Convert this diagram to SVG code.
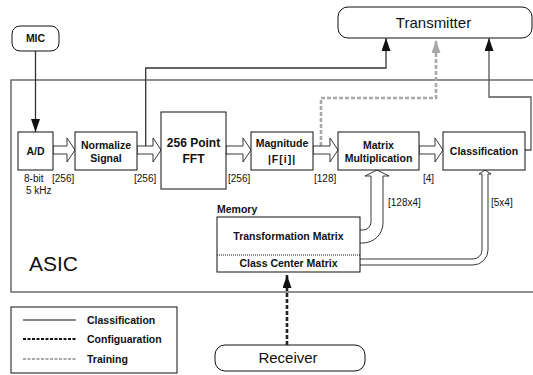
<svg xmlns="http://www.w3.org/2000/svg" width="533" height="375" viewBox="0 0 533 375">
<style>
text{font-family:"Liberation Sans",Arial,sans-serif;fill:#111}
.b{font-weight:bold;font-size:10.5px}
.n{font-size:10px}
.box{fill:#fff;stroke:#111;stroke-width:1}
.ha{fill:#fff;stroke:#222;stroke-width:0.9}
.hc{fill:none;stroke:#222;stroke-width:0.9}
.cl{fill:none;stroke:#333;stroke-width:1.3}
.cl2{fill:none;stroke:#555;stroke-width:1.3}
.tr{fill:none;stroke:#a8a8a8;stroke-width:2.6;stroke-dasharray:4 2}
.cf{fill:none;stroke:#222;stroke-width:2.6;stroke-dasharray:4 2}
</style>
<defs>
<marker id="ah" markerUnits="userSpaceOnUse" markerWidth="13" markerHeight="9" refX="13" refY="4.5" orient="auto"><path d="M0,0 L13,4.5 L0,9 z" fill="#111"/></marker>
<marker id="ahg" markerUnits="userSpaceOnUse" markerWidth="13" markerHeight="9" refX="13" refY="4.5" orient="auto"><path d="M0,0 L13,4.5 L0,9 z" fill="#a8a8a8"/></marker>
</defs>
<rect width="533" height="375" fill="#fff"/>

<g id="asic">
<rect x="11" y="80" width="540" height="212" fill="none" stroke="#555" stroke-width="1.3"/>
<text x="29" y="271" style="font-size:21px">ASIC</text>
</g>

<g id="mic">
<rect class="box" x="12" y="26" width="47" height="25" rx="8"/>
<text class="b" x="35.5" y="42" text-anchor="middle">MIC</text>
</g>

<g id="transmitter">
<rect class="box" x="338" y="7" width="194" height="31" rx="10"/>
<text x="433.5" y="28" text-anchor="middle" style="font-size:15px">Transmitter</text>
</g>

<g id="receiver">
<rect class="box" x="215" y="345" width="150" height="26" rx="10"/>
<text x="288" y="363" text-anchor="middle" style="font-size:15px">Receiver</text>
</g>

<g id="connectors">
<path class="cl" d="M35.5,51 V132" marker-end="url(#ah)"/>
<path class="cl" d="M145.7,146 V68 H386 V38" marker-end="url(#ah)"/>
<path class="tr" d="M321,146 V98 H436 V40" marker-end="url(#ahg)"/>
<path class="cl2" d="M525,150 H531 V97 H489 V38" marker-end="url(#ah)"/>
<path class="cf" d="M287,345 V275" marker-end="url(#ah)"/>
<polygon class="ha" points="53,146 67,146 67,138 75,150 67,162 67,154 53,154"/>
<polygon class="ha" points="137,146 153,146 153,138 161,150 153,162 153,154 137,154"/>
<polygon class="ha" points="226,146 243,146 243,138 251,150 243,162 243,154 226,154"/>
<polygon class="ha" points="313,146 330,146 330,138 338,150 330,162 330,154 313,154"/>
<polygon class="ha" points="419,146 435,146 435,138 443,150 435,162 435,154 419,154"/>
<path class="hc" d="M360,243 L363,243 A20,20 0 0 0 383,223 L383,176 L389,176 L377,170 L365,176 L371,176 L371,222 A8,8 0 0 1 363,230 L360,230"/>
<path class="hc" d="M360,265 L473,265 A15,15 0 0 0 488,250 L488,174 L491,174 L485,170 L479,174 L482,174 L482,250 A9,9 0 0 1 473,259 L360,259"/>
</g>

<g id="ad">
<rect class="box" x="18" y="132" width="35" height="38"/>
<text class="b" x="35.5" y="155" text-anchor="middle">A/D</text>
</g>
<g id="normalize">
<rect class="box" x="75" y="132" width="62" height="38"/>
<text class="b" x="106" y="149" text-anchor="middle">Normalize</text>
<text class="b" x="106" y="162" text-anchor="middle">Signal</text>
</g>
<g id="fft">
<rect class="box" x="161" y="112" width="65" height="77"/>
<text class="b" x="193.5" y="147" text-anchor="middle" style="font-size:12px">256 Point</text>
<text class="b" x="193.5" y="163" text-anchor="middle" style="font-size:12px">FFT</text>
</g>
<g id="magnitude">
<rect class="box" x="251" y="132" width="62" height="38"/>
<text class="b" x="282" y="147" text-anchor="middle">Magnitude</text>
<text class="b" x="282" y="163" text-anchor="middle" letter-spacing="1">|F[i]|</text>
</g>
<g id="matrixmult">
<rect class="box" x="338" y="132" width="81" height="38"/>
<text class="b" x="378.5" y="149" text-anchor="middle">Matrix</text>
<text class="b" x="378.5" y="162" text-anchor="middle">Multiplication</text>
</g>
<g id="classification">
<rect class="box" x="443" y="132" width="82" height="38"/>
<text class="b" x="484" y="155" text-anchor="middle">Classification</text>
</g>

<g id="memory">
<text class="b" x="217" y="213">Memory</text>
<rect class="box" x="217" y="217" width="143" height="55"/>
<line x1="217" y1="255" x2="360" y2="255" stroke="#111" stroke-width="1" stroke-dasharray="1 1"/>
<text class="b" x="288.5" y="240" text-anchor="middle">Transformation Matrix</text>
<text class="b" x="288.5" y="267" text-anchor="middle">Class Center Matrix</text>
</g>

<g id="labels">
<text class="n" x="24" y="182">8-bit</text>
<text class="n" x="26" y="194">5 kHz</text>
<text class="n" x="52" y="182">[256]</text>
<text class="n" x="134" y="182">[256]</text>
<text class="n" x="228" y="182">[256]</text>
<text class="n" x="314" y="182">[128]</text>
<text class="n" x="423" y="182">[4]</text>
<text class="n" x="388" y="206">[128x4]</text>
<text class="n" x="491" y="206">[5x4]</text>
</g>

<g id="legend">
<rect x="11" y="307" width="166" height="66" fill="none" stroke="#111" stroke-width="1"/>
<line x1="23" y1="320" x2="76" y2="320" stroke="#111" stroke-width="1"/>
<line x1="23" y1="339" x2="76" y2="339" stroke="#111" stroke-width="2" stroke-dasharray="3 1.5"/>
<line x1="23" y1="359" x2="76" y2="359" stroke="#a8a8a8" stroke-width="2" stroke-dasharray="3 1.5"/>
<text class="b" x="87" y="323.5">Classification</text>
<text class="b" x="87" y="343">Configuaration</text>
<text class="b" x="87" y="363">Training</text>
</g>
</svg>
